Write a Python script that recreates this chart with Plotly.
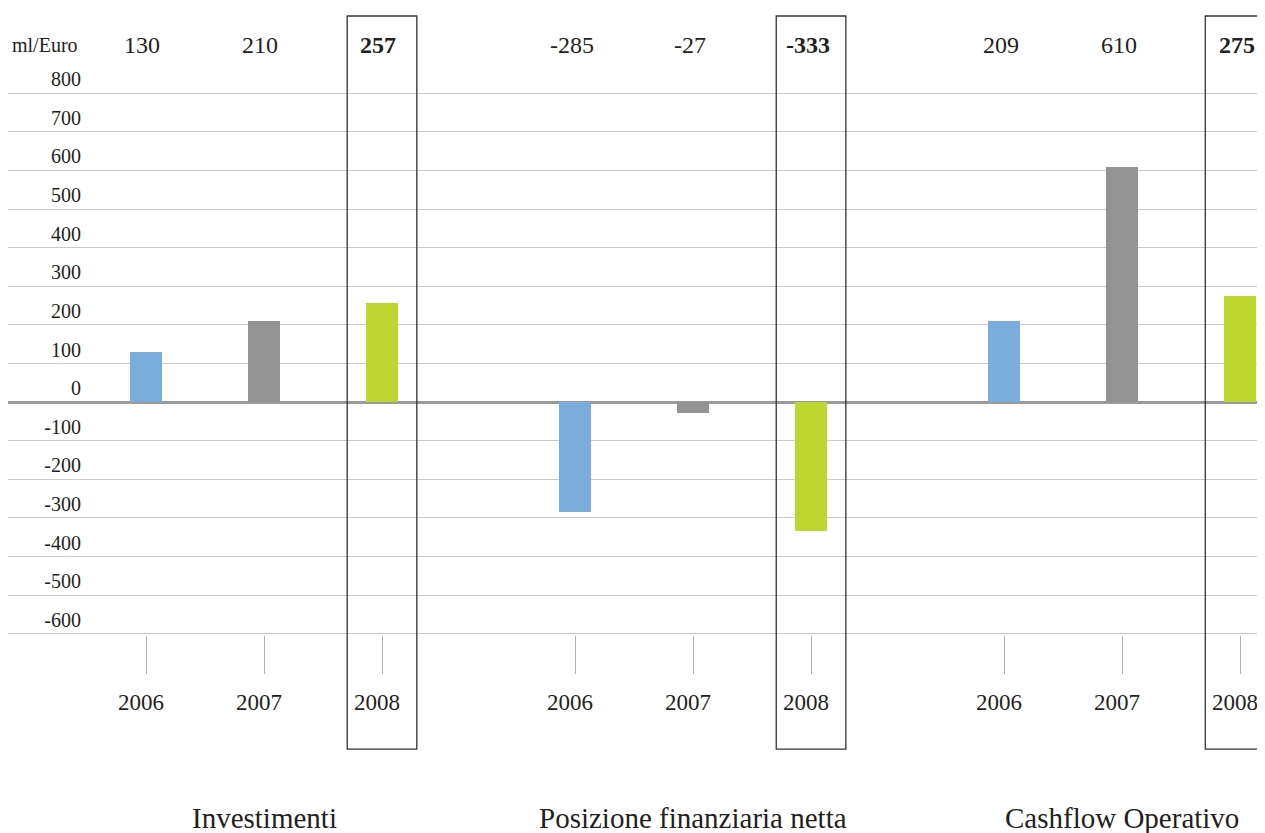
import plotly.graph_objects as go

# ---- data ----
groups = ["Investimenti", "Posizione finanziaria netta", "Cashflow Operativo"]
years = ["2006", "2007", "2008"]
values_2006 = [130, -285, 209]
values_2007 = [210, -27, 610]
values_2008 = [257, -333, 275]
y_ticks = [800, 700, 600, 500, 400, 300, 200, 100, 0, -100, -200, -300, -400, -500, -600]
unit_label = "ml/Euro"

series = {"2006": values_2006, "2007": values_2007, "2008": values_2008}
colors = {"2006": "#7aaddb", "2007": "#939393", "2008": "#bdd630"}

FONT = "Liberation Serif"
TXT = "#231f20"
GROUP_GAP = 3.636   # distance between groups, in year-slot units
BAR_W = 0.265

# page body has an 8px margin -> figure is 8px smaller on each dimension
W, H = 1257, 825

def xpos(g, i):
    return g * GROUP_GAP + i

fig = go.Figure()
for i, yr in enumerate(years):
    fig.add_trace(go.Bar(
        x=[xpos(g, i) for g in range(len(groups))],
        y=series[yr],
        width=BAR_W,
        marker=dict(color=colors[yr], line=dict(width=0)),
        name=yr,
        showlegend=False,
        hoverinfo="y",
    ))

annotations = []
for g in range(len(groups)):
    for i, yr in enumerate(years):
        v = series[yr][g]
        txt = f"<b>{v}</b>" if yr == "2008" else str(v)
        annotations.append(dict(
            x=xpos(g, i) - 0.03, xref="x", y=1.0866, yref="paper",
            text=txt, showarrow=False, xanchor="center", yanchor="middle",
            font=dict(family=FONT, size=24, color=TXT),
        ))
    annotations.append(dict(
        x=xpos(g, 1), xref="x", y=-0.337, yref="paper",
        text=groups[g], showarrow=False, xanchor="center", yanchor="middle",
        font=dict(family=FONT, size=29, color=TXT),
    ))
annotations.append(dict(
    x=72 / W, xref="paper", y=1.0866, yref="paper", text=unit_label,
    showarrow=False, xanchor="right", yanchor="middle",
    font=dict(family=FONT, size=20, color=TXT),
))

shapes = []
for g in range(len(groups)):
    xc = xpos(g, 2)
    shapes.append(dict(
        type="rect", xref="x", yref="paper",
        x0=xc - 0.295, x1=xc + 0.295, y0=-0.210, y1=1.140,
        line=dict(color="#333333", width=1.3), fillcolor="rgba(0,0,0,0)",
        layer="above",
    ))

tickvals_x = [xpos(g, i) for g in range(len(groups)) for i in range(len(years))]
ticktext_x = [yr for g in range(len(groups)) for yr in years]

left_px, right_px, first_px, unit_px = 8, 1265, 146, 118
x_min = (left_px - first_px) / unit_px
x_max = (right_px - first_px) / unit_px

yrange = [-603, 803]

fig.update_layout(
    width=W, height=H,
    margin=dict(l=0, r=0, t=84, b=198, pad=0),
    paper_bgcolor="white", plot_bgcolor="white",
    bargap=0,
    annotations=annotations,
    shapes=shapes,
    xaxis=dict(
        range=[x_min, x_max], tickvals=tickvals_x, ticktext=ticktext_x,
        ticks="outside", ticklen=38, tickwidth=1, tickcolor="#b0b0b0",
        showgrid=False, zeroline=False, showline=False,
        ticklabelstandoff=8, ticklabelshift=-5,
        tickfont=dict(family=FONT, size=23, color=TXT),
    ),
    yaxis=dict(
        range=yrange, tickvals=y_ticks, showticklabels=False,
        showgrid=True, gridcolor="#cbcbcb", gridwidth=1,
        zeroline=True, zerolinecolor="#9a9a9a", zerolinewidth=2.5,
        showline=False, ticks="",
    ),
    yaxis2=dict(
        range=yrange, tickvals=y_ticks, ticktext=[str(t) for t in y_ticks],
        overlaying="y", anchor="free", position=73 / W, side="left",
        showgrid=False, zeroline=False, showline=False, ticks="",
        ticklabelposition="outside top",
        tickfont=dict(family=FONT, size=20, color=TXT),
    ),
)
fig.add_trace(go.Scatter(x=[x_min], y=[0], yaxis="y2", mode="markers",
                         marker=dict(opacity=0), showlegend=False, hoverinfo="skip"))

fig.write_html("out.html")
